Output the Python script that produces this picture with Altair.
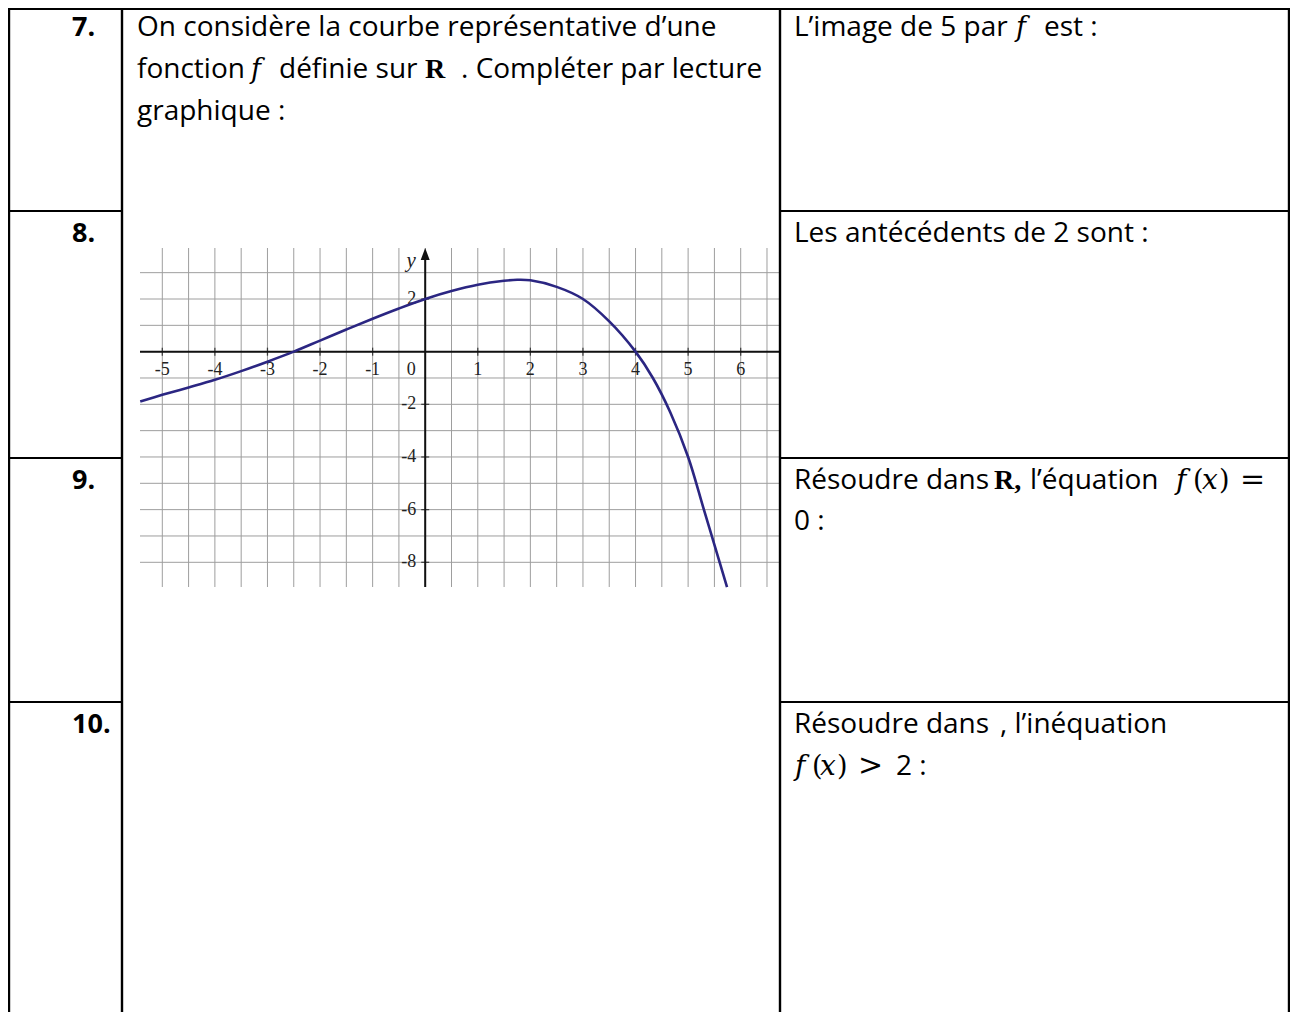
import altair as alt
import pandas as pd

# ---------------- data ----------------
curve_x = [-5.42, -5.0, -4.5, -4.0, -3.5, -3.0, -2.5, -2.0, -1.5, -1.0, -0.5, 0.0,
           0.5, 1.0, 1.5, 1.75, 2.0, 2.5, 3.0, 3.5, 4.0, 4.33, 4.66, 5.0, 5.3, 5.6, 5.74]
curve_y = [-1.89, -1.64, -1.36, -1.07, -0.74, -0.38, 0.0, 0.42, 0.84, 1.25, 1.64, 2.0,
           2.3, 2.54, 2.69, 2.73, 2.71, 2.46, 2.0, 1.15, 0.0, -1.0, -2.3, -4.0, -6.0, -8.0, -8.94]

grid_x = [-5.0, -4.5, -4.0, -3.5, -3.0, -2.5, -2.0, -1.5, -1.0, -0.5, 0.0, 0.5,
          1.0, 1.5, 2.0, 2.5, 3.0, 3.5, 4.0, 4.5, 5.0, 5.5, 6.0, 6.5]
grid_y = [-8, -7, -6, -5, -4, -3, -2, -1, 0, 1, 2, 3]
x_ticks = [-5, -4, -3, -2, -1, 1, 2, 3, 4, 5, 6]
y_ticks = [-8, -6, -4, -2, 2]

row_numbers = ["7.", "8.", "9.", "10."]
intro = ["On considère la courbe représentative d’une", "fonction", "f", "définie sur",
         "R", ". Compléter par lecture", "graphique :"]
q7 = ["L’image de 5 par", "f", "est :"]
q8 = ["Les antécédents de 2 sont :"]
q9 = ["Résoudre dans", "R,", "l’équation", "f", "(", "x", ")", "=", "0 :"]
q10 = ["Résoudre dans", ", l’inéquation", "f", "(", "x", ")", ">", "2 :"]

# ---------------- helpers ----------------
SANS = "Open Sans"
SZ = 28
SERIF = "Liberation Serif"
MATH = "DejaVu Serif"
one = pd.DataFrame({"k": [0]})
OX, OY = 8, 8  # page margin

XS = alt.Scale(domain=[-5, 6], range=[162.3 - OX, 740.7 - OX], nice=False, zero=False)
YS = alt.Scale(domain=[-8, 2], range=[562.3 - OY, 299.0 - OY], nice=False, zero=False)


def X(f="x"):
    return alt.X(f"{f}:Q", scale=XS, axis=None)


def Y(f="y"):
    return alt.Y(f"{f}:Q", scale=YS, axis=None)


def txt(s, x, y, font=SANS, size=SZ, weight="normal", style="normal", color="black"):
    return alt.Chart(one).mark_text(
        text=s, font=font, fontSize=size, fontWeight=weight, fontStyle=style,
        align="left", baseline="alphabetic", color=color
    ).encode(x=alt.value(x - OX), y=alt.value(y - OY))


def hline(y, x1, x2, w=2.2):
    return alt.Chart(one).mark_rule(color="black", strokeWidth=w).encode(
        y=alt.value(y - OY), x=alt.value(x1 - OX), x2=alt.value(x2 - OX))


def vline(x, y1, y2, w=2.4):
    return alt.Chart(one).mark_rule(color="black", strokeWidth=w).encode(
        x=alt.value(x - OX), y=alt.value(y1 - OY), y2=alt.value(y2 - OY))


layers = []

# ---------------- graph ----------------
GL, GR, GT, GB = 140, 779, 248, 587
gx = pd.DataFrame({"x": grid_x})
gy = pd.DataFrame({"y": grid_y})
layers.append(alt.Chart(gx).mark_rule(color="#9e9e9e", strokeWidth=1).encode(
    x=X(), y=alt.value(GT - OY), y2=alt.value(GB - OY)))
layers.append(alt.Chart(gy).mark_rule(color="#9e9e9e", strokeWidth=1).encode(
    y=Y(), x=alt.value(GL - OX), x2=alt.value(GR - OX)))

origin = pd.DataFrame({"x": [0], "y": [0]})
layers.append(alt.Chart(origin).mark_rule(color="#111111", strokeWidth=2).encode(
    y=Y(), x=alt.value(GL - OX), x2=alt.value(GR - OX)))
layers.append(alt.Chart(origin).mark_rule(color="#111111", strokeWidth=2).encode(
    x=X(), y=alt.value(GB - OY), y2=alt.value(256 - OY)))
layers.append(alt.Chart(origin).mark_point(
    shape="M-0.75,1 L0,-1 L0.75,1 Z", filled=True, size=144, color="#111111", opacity=1
).encode(x=X(), y=alt.value(254 - OY)))

xt = pd.DataFrame({"x": x_ticks, "y": [0] * len(x_ticks), "lab": [str(v) for v in x_ticks]})
yt = pd.DataFrame({"x": [0] * len(y_ticks), "y": y_ticks, "lab": [str(v) for v in y_ticks]})
layers.append(alt.Chart(xt).mark_tick(orient="vertical", size=8, thickness=1.3, color="#111111").encode(
    x=X(), y=Y()))
layers.append(alt.Chart(yt).mark_tick(orient="horizontal", size=8, thickness=1.3, color="#111111").encode(
    x=X(), y=Y()))
layers.append(alt.Chart(xt).mark_text(font=SERIF, fontSize=18, color="#222222", dy=18, baseline="middle").encode(
    x=X(), y=Y(), text="lab:N"))
layers.append(alt.Chart(yt).mark_text(font=SERIF, fontSize=18, color="#222222", dx=-9, align="right",
                                      baseline="middle").encode(x=X(), y=Y(), text="lab:N"))
layers.append(alt.Chart(origin).mark_text(text="0", font=SERIF, fontSize=18, color="#222222", dx=-14, dy=18,
                                          baseline="middle").encode(x=X(), y=Y()))
layers.append(alt.Chart(origin).mark_text(text="y", font=SERIF, fontSize=21, fontStyle="italic", color="#222222",
                                          dx=-14, baseline="middle").encode(x=X(), y=alt.value(261 - OY)))

curve = pd.DataFrame({"x": curve_x, "y": curve_y})
layers.append(alt.Chart(curve).mark_line(color="#2b2682", strokeWidth=2.6, interpolate="catmull-rom").encode(
    x=X(), y=Y()))

# ---------------- table ----------------
TOP, BOT = 9, 1012
RIGHT = 1289
layers += [vline(9, TOP - 1, BOT), vline(122, TOP - 1, BOT), vline(780, TOP - 1, BOT), vline(RIGHT, TOP - 1, BOT)]
layers.append(hline(TOP, 8, RIGHT + 1))
for yy in (211, 458, 702):
    layers.append(hline(yy, 9, 122))
    layers.append(hline(yy, 780, RIGHT))

# row numbers
for lab, b in zip(row_numbers, (36, 242, 489, 733)):
    layers.append(txt(lab, 72, b, weight="bold", size=27))

# intro text
layers.append(txt(intro[0], 137, 36))
layers.append(txt(intro[1], 137, 78))
layers.append(txt(intro[2], 251, 78, font=MATH, size=27, style="italic"))
layers.append(txt(intro[3], 279, 78))
layers.append(txt(intro[4], 425, 78, font=SERIF, size=28, weight="bold"))
layers.append(txt(intro[5], 461, 78))
layers.append(txt(intro[6], 137, 120))

# question 7
layers.append(txt(q7[0], 794, 36))
layers.append(txt(q7[1], 1016, 36, font=MATH, size=27, style="italic"))
layers.append(txt(q7[2], 1044, 36))
# question 8
layers.append(txt(q8[0], 794, 242))
# question 9
layers.append(txt(q9[0], 794, 489))
layers.append(txt(q9[1], 994, 489, font=SERIF, size=28, weight="bold"))
layers.append(txt(q9[2], 1030, 489))
layers.append(txt(q9[3], 1176, 489, font=MATH, size=28, style="italic"))
layers.append(txt(q9[4], 1193, 489, font=MATH, size=27))
layers.append(txt(q9[5], 1202, 489, font=MATH, size=28, style="italic"))
layers.append(txt(q9[6], 1219, 489, font=MATH, size=27))
layers.append(txt(q9[7], 1240, 489, font=MATH, size=30))
layers.append(txt(q9[8], 794, 530))
# question 10
layers.append(txt(q10[0], 794, 733))
layers.append(txt(q10[1], 1000, 733))
layers.append(txt(q10[2], 795, 775, font=MATH, size=28, style="italic"))
layers.append(txt(q10[3], 812, 775, font=MATH, size=27))
layers.append(txt(q10[4], 820, 775, font=MATH, size=28, style="italic"))
layers.append(txt(q10[5], 837, 775, font=MATH, size=27))
layers.append(txt(q10[6], 858, 775, font=MATH, size=30))
layers.append(txt(q10[7], 896, 775))

chart = alt.layer(*layers).properties(
    width=1282, height=1004, padding=0,
    autosize=alt.AutoSizeParams(type="none"),
    background="white",
).configure_view(stroke=None)

chart.save("out.html", embed_options={"renderer": "svg", "actions": False})
